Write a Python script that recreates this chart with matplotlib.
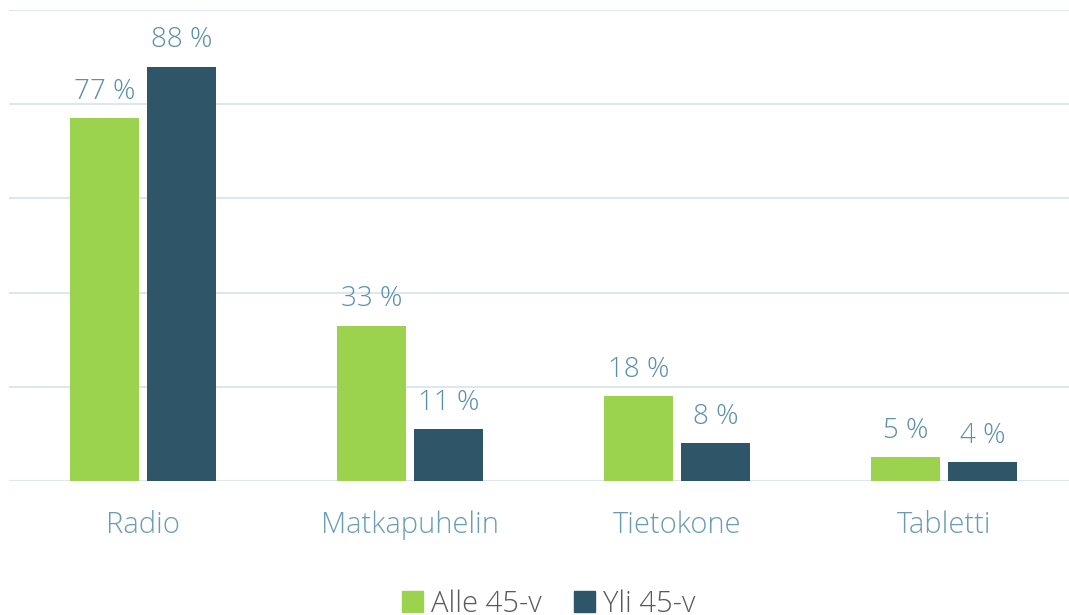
import numpy as np
import matplotlib.pyplot as plt
from matplotlib.patches import Patch

categories = ["Radio", "Matkapuhelin", "Tietokone", "Tabletti"]
alle_45 = [77, 33, 18, 5]
yli_45 = [88, 11, 8, 4]
series_names = ["Alle 45-v", "Yli 45-v"]

green = "#9BD34E"
dark = "#2F5568"
label_col = "#5A8FAA"
cat_col = "#6A9CB6"
grid_col = "#DCE7EF"

plt.rcParams['font.family'] = ['Open Sans', 'DejaVu Sans']

fig = plt.figure(figsize=(10.69, 6.15), dpi=100)
ax = fig.add_axes([9 / 1069, 134 / 615, 1060 / 1069, 471 / 615])

x = np.arange(len(categories))
w = 0.258
off = 0.144
b1 = ax.bar(x - off, alle_45, w, color=green, zorder=3)
b2 = ax.bar(x + off, yli_45, w, color=dark, zorder=3)

for bars, vals in ((b1, alle_45), (b2, yli_45)):
    for rect, v in zip(bars, vals):
        ax.annotate(f"{v} %", (rect.get_x() + rect.get_width() / 2, v),
                    xytext=(0, 9), textcoords="offset points",
                    ha="center", va="bottom", fontsize=20, color=label_col,
                    fontweight="light")

ax.set_xlim(-0.502, 3.468)
ax.set_ylim(0, 100)
ax.set_yticks([0, 20, 40, 60, 80, 100])
ax.yaxis.grid(True, color=grid_col, linewidth=1.5, zorder=0)
ax.set_yticklabels([])
ax.tick_params(axis='y', length=0)
ax.set_xticks(x)
ax.set_xticklabels(categories, fontsize=21, color=cat_col, fontweight="light")
ax.tick_params(axis='x', length=0, pad=21)
for s in ax.spines.values():
    s.set_visible(False)

handles = [Patch(color=green), Patch(color=dark)]
fig.legend(handles, series_names, loc="center", bbox_to_anchor=(549 / 1069, 11 / 615),
           ncol=2, frameon=False, handlelength=0.7, handleheight=0.7,
           handletextpad=0.3, columnspacing=1.1, labelcolor="#595959",
           prop={"size": 21, "weight": "light"})

fig.savefig("out.png", dpi=100)
